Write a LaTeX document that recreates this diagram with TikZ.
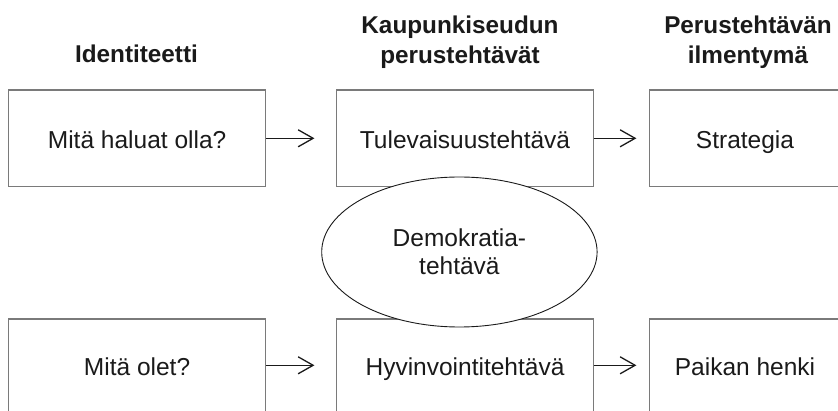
\documentclass[tikz,border=0pt]{standalone}
\usepackage{fontspec}
\setmainfont{Liberation Sans}
\usetikzlibrary{arrows.meta,shapes.geometric}
\definecolor{txt}{HTML}{1A1A1A}
\definecolor{boxline}{HTML}{7A7A7A}
\tikzset{
  box/.style={draw=boxline, line width=1.2pt, rectangle, inner sep=0pt,
    minimum height=96.7pt, text height=24pt, text depth=2.6pt,
    font=\fontsize{24.5}{28}\selectfont, text=txt},
  hdr/.style={inner sep=0pt, align=center, text=txt,
    font=\fontsize{24.3}{30}\selectfont\bfseries},
  arr/.style={-{Straight Barb[length=15pt,width=17pt,line width=1.3pt]},
    line width=1.3pt, draw=txt},
  oval/.style={ellipse, draw=txt, line width=0.9pt, fill=white, inner sep=0pt,
    minimum width=275.4pt, minimum height=150pt, align=center, text=txt,
    font=\fontsize{24.5}{28}\selectfont}
}
\begin{document}
\begin{tikzpicture}[x=1pt,y=-1pt]
\useasboundingbox (0,0) rectangle (838,411);
\clip (0,0) rectangle (838,411);
% headers
\node[hdr, anchor=center] (h1) at (136.5,54.25) {Identiteetti};
\node[hdr, anchor=center] (h2) at (460,41.75) {Kaupunkiseudun\\perustehtävät};
\node[hdr, anchor=center] (h3) at (748,41.75) {Perustehtävän\\ilmentymä};
% top row
\node[box, minimum width=257.2pt] (a1) at (137.1,138.3) {Mitä haluat olla?};
\node[box, minimum width=256.7pt] (a2) at (465,138.3) {Tulevaisuustehtävä};
\node[box, minimum width=191pt] (a3) at (745,138.3) {Strategia};
% bottom row
\node[box, minimum width=257.2pt, minimum height=92.6pt] (b1) at (137.1,365.3) {Mitä olet?};
\node[box, minimum width=256.7pt, minimum height=92.6pt] (b2) at (465,365.3) {Hyvinvointitehtävä};
\node[box, minimum width=191pt, minimum height=92.6pt] (b3) at (745,365.3) {Paikan henki};
% ellipse
\node[oval] (e) at (459.4,252) {Demokratia-\\tehtävä};
% arrows
\draw[arr, shorten >=21.6pt] (a1.east) -- (a2.west);
\draw[arr, shorten >=12.5pt] (a2.east) -- (a3.west);
\draw[arr, shorten >=21.6pt] (b1.east) -- (b2.west);
\draw[arr, shorten >=12.5pt] (b2.east) -- (b3.west);
\end{tikzpicture}
\end{document}
